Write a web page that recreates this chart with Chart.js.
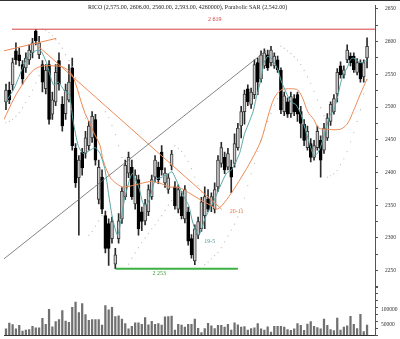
<!DOCTYPE html>
<html>
<head>
<meta charset="utf-8">
<style>
html,body{margin:0;padding:0;background:#fff;overflow:hidden;width:400px;height:339px;}
#wrap{position:relative;width:400px;height:339px;}
#frame{position:absolute;left:0;top:0;width:400px;height:1px;background:#333;}
#c{position:absolute;left:0;top:1px;}
#title{position:absolute;left:88px;top:4px;font:6px "Liberation Serif",serif;color:#222;white-space:nowrap;}
</style>
<script src="https://cdn.jsdelivr.net/npm/chart.js@4.4.0/dist/chart.umd.min.js"></script>
</head>
<body>
<div id="wrap"><div id="frame"></div><canvas id="c" width="400" height="338"></canvas>
<div id="title">RICO (2,575.00, 2606.00, 2560.00, 2,593.00, 4260000), Parabolic SAR (2,542.00)</div></div>
<script>
const opens = [2508,2526,2534,2586,2580,2565,2560,2572,2583,2616,
2580,2565,2528,2565,2489,2508,2571,2504,2490,2511,
2560,2437,2392,2431,2429,2441,2453,2481,2359,2393,
2334,2322,2299,2260,2299,2329,2363,2399,2408,2352,
2389,2340,2326,2340,2363,2393,2408,2431,2384,2374,
2410,2378,2344,2363,2329,2340,2299,2265,2304,2314,
2334,2359,2349,2344,2378,2414,2423,2408,2408,2414,
2438,2471,2493,2528,2504,2519,2568,2543,2563,2580,
2568,2563,2572,2556,2493,2508,2490,2513,2519,2493,
2474,2438,2444,2423,2438,2449,2434,2453,2478,2493,
2520,2563,2549,2572,2578,2578,2553,2568,2546,2575];
const highs = [2535,2538,2575,2598,2590,2571,2583,2595,2605,2619,
2608,2571,2565,2571,2523,2565,2583,2516,2535,2565,
2575,2444,2426,2437,2463,2478,2493,2489,2419,2404,
2341,2329,2332,2284,2337,2377,2419,2431,2419,2404,
2396,2347,2359,2381,2396,2426,2416,2441,2407,2398,
2434,2386,2381,2371,2380,2347,2305,2320,2332,2362,
2378,2374,2369,2384,2426,2446,2431,2437,2419,2459,
2475,2501,2526,2534,2529,2572,2575,2586,2589,2587,
2593,2583,2578,2560,2523,2514,2523,2519,2523,2501,
2481,2471,2452,2449,2471,2456,2475,2490,2508,2519,
2559,2569,2563,2595,2583,2583,2574,2572,2572,2606];
const lows = [2496,2505,2526,2565,2563,2535,2553,2565,2575,2595,
2574,2523,2520,2474,2481,2502,2526,2463,2481,2508,
2434,2377,2304,2396,2422,2434,2446,2411,2352,2337,
2277,2258,2292,2253,2292,2322,2359,2392,2359,2344,
2304,2311,2320,2334,2359,2386,2383,2396,2377,2368,
2404,2344,2338,2329,2323,2289,2269,2259,2299,2310,
2314,2340,2340,2338,2371,2408,2398,2404,2369,2408,
2434,2453,2474,2502,2498,2513,2519,2538,2559,2556,
2563,2559,2553,2490,2487,2484,2484,2487,2478,2453,
2441,2434,2416,2419,2434,2393,2429,2449,2472,2489,
2508,2544,2544,2568,2563,2553,2549,2538,2538,2560];
const closes = [2526,2511,2568,2572,2571,2543,2575,2587,2598,2601,
2598,2538,2556,2481,2511,2553,2535,2471,2526,2538,
2441,2384,2419,2407,2453,2471,2486,2419,2408,2344,
2284,2284,2325,2274,2326,2371,2411,2423,2363,2396,
2314,2325,2352,2374,2389,2419,2389,2404,2399,2392,
2428,2349,2374,2334,2374,2295,2274,2314,2325,2355,
2363,2344,2363,2374,2419,2438,2404,2429,2393,2444,
2468,2493,2520,2508,2523,2565,2538,2580,2583,2560,
2587,2578,2557,2496,2517,2489,2516,2493,2489,2475,
2449,2463,2423,2441,2463,2419,2468,2483,2504,2513,
2553,2549,2557,2587,2568,2557,2568,2543,2568,2593];
const volumes = [34000,54000,49000,34000,46000,27000,30000,32000,43000,38000,
38000,70000,50000,101000,41000,59000,66000,97000,61000,57000,
108000,126000,90000,121000,83000,63000,66000,66000,66000,47000,
114000,99000,108000,76000,79000,68000,52000,34000,43000,55000,
55000,50000,73000,48000,60000,50000,52000,47000,75000,76000,
78000,30000,50000,47000,40000,50000,50000,68000,36000,22000,
35000,53000,45000,35000,46000,46000,40000,50000,30000,55000,
48000,40000,42000,30000,35000,38000,52000,34000,30000,41000,
23000,43000,43000,43000,40000,32000,29000,34000,52000,46000,
29000,51000,59000,43000,39000,34000,68000,46000,32000,28000,
71000,30000,40000,45000,77000,50000,35000,84000,25000,47000];
// Parabolic SAR dots, one per candle
const sar = [2476,2478,2481,2486,2492,2499,2507,2516,2526,2537,
2548,2619,2617,2614,2609,2603,2597,2590,2580,2571,
2562,2545,2522,2500,2483,2304,2310,2318,2326,2334,
2493,2484,2472,2458,2441,2423,2253,2260,2269,2277,
2285,2293,2300,2307,2314,2320,2327,2334,2342,2350,
2357,2441,2437,2432,2425,2417,2406,2393,2380,2370,
2259,2263,2268,2273,2278,2285,2294,2303,2312,2321,
2332,2345,2361,2380,2398,2414,2432,2449,2465,2478,
2490,2503,2513,2593,2590,2586,2582,2577,2572,2565,
2556,2546,2536,2524,2511,2499,2487,2393,2395,2398,
2403,2412,2421,2432,2447,2461,2478,2496,2520,2542];

// short moving average (teal): [candle position, price]
const tealX = [0,2.4,4.8,6.9,9,10.5,12.2,14.3,15.8,17.9,19.1,20.3,21.8,23.3,25.4,26.9,28.4,29.9,31,32.2,33.7,35.8,37.3,38.2,39.1,40.3,41.2,42.1,43.3,45.1,47.2,49.3,50.2,52.3,53.7,55.2,56.1,57,58.2,59.1,60,61.5,63,65.1,66.6,68.1,70.5,72,73.5,74.6,75.5,77,77.9,79.1,80.6,82.1,83,84.5,86,87.5,89,89.9,91.1,92,92.9,94,94.9,95.8,97,97.9,98.8,100,100.9,101.8,103,103.9,104.8,106,106.9,107.8,109];
const tealY = [2508,2528,2557,2580,2586,2586,2568,2534,2538,2523,2520,2478,2441,2429,2434,2438,2429,2404,2366,2329,2304,2359,2389,2399,2389,2374,2355,2349,2359,2389,2393,2399,2401,2378,2363,2349,2329,2314,2304,2314,2329,2344,2359,2384,2399,2404,2429,2459,2478,2493,2513,2543,2568,2578,2571,2557,2541,2523,2508,2504,2490,2474,2453,2438,2426,2429,2438,2453,2474,2489,2493,2513,2534,2550,2560,2572,2575,2571,2568,2568,2572];
// longer moving average (orange)
const orangeX = [-0.6,2.4,5.4,8.4,11.3,14.3,16.7,18.8,20.3,22.7,23.9,25.4,26.3,28.4,29.3,31.4,33.1,35.2,39.1,43.3,46.3,49.3,52.3,55.2,59.1,62.1,63.6,65.1,68.1,71.1,74.1,77,79.1,80.9,83,86,88.1,89.6,91.1,92.9,94.4,97,100.9,103,104.8,106.9,109];
const orangeY = [2481,2513,2538,2557,2563,2563,2562,2556,2546,2508,2490,2474,2463,2441,2419,2393,2384,2378,2381,2386,2384,2378,2377,2369,2357,2349,2344,2349,2369,2393,2419,2449,2486,2513,2526,2528,2526,2513,2493,2481,2468,2466,2466,2474,2493,2519,2543];

// drawn lines: [x0, y0, x1, y1]
const topOrangeLine = [-0.6, 2586, 15.2, 2605];
const downTrend = [9.3, 2595, 65.1, 2344];
const upTrend = [-0.6, 2268, 78.5, 2586];
const highLine = [1.8, 2619, 111.4, 2619];
const lowLine = [33.1, 2253, 70, 2253];

const notes = [
  {text:'2 619', x:63, y:2634, color:'#d23a3a'},
  {text:'2 253', x:46.3, y:2245, color:'#3a9a3a'},
  {text:'19-5', x:61.5, y:2295, color:'#4a9a9a'},
  {text:'20-11', x:69.6, y:2340, color:'#e0703a'}
];
const volumeLabels = [50000, 100000];

const xMin = -0.6, xMax = 111.4;
const priceMin = 2224.7, priceMax = 2656;
const volMin = 13333, volMax = 176667;

const idx = closes.map((_, i) => i);
const seg = a => [{x:a[0], y:a[1]}, {x:a[2], y:a[3]}];
const pts = (xs, ys) => xs.map((x, i) => ({x, y: ys[i]}));

const notesPlugin = {
  id: 'notes',
  afterDraw(chart) {
    const {ctx, scales} = chart;
    ctx.save();
    ctx.font = '6px "Liberation Serif", serif';
    ctx.textAlign = 'center';
    ctx.textBaseline = 'middle';
    notes.forEach(n => {
      ctx.fillStyle = n.color;
      ctx.fillText(n.text, scales.x.getPixelForValue(n.x), scales.y.getPixelForValue(n.y));
    });
    // volume axis labels, placed by the volume scale
    ctx.font = '5.5px "Liberation Serif", serif';
    ctx.textAlign = 'left';
    ctx.fillStyle = '#333';
    volumeLabels.forEach(v => {
      ctx.fillText(String(v), scales.yv.left + 6, scales.yv.getPixelForValue(v));
    });
    ctx.restore();
  }
};

const lineDs = (data, color, width, order) => ({
  type: 'line', data, borderColor: color, borderWidth: width, pointRadius: 0,
  tension: 0, fill: false, yAxisID: 'y', order
});

new Chart(document.getElementById('c'), {
  type: 'bar',
  data: {
    datasets: [
      lineDs(seg(highLine), '#d84040', 1, 1),
      lineDs(seg(lowLine), '#3cb043', 2, 1),
      lineDs(seg(upTrend), '#666666', 0.8, 1),
      lineDs(seg(downTrend), '#ee8a55', 1, 1),
      lineDs(seg(topOrangeLine), '#ee8a55', 1, 1),
      Object.assign(lineDs(pts(tealX, tealY), '#5aa6a6', 1, 2), {tension: 0.2}),
      Object.assign(lineDs(pts(orangeX, orangeY), '#ee8a55', 1, 2), {tension: 0.3}),
      {
        type: 'line', yAxisID: 'y', order: 2, showLine: false,
        data: idx.map(i => ({x: i, y: sar[i]})),
        pointRadius: 0.6, pointBorderWidth: 0, pointBackgroundColor: '#b8b8b8'
      },
      {
        type: 'bar', yAxisID: 'y', order: 3, grouped: false,
        data: idx.map(i => ({x: i, y: [Math.min(opens[i], closes[i]), Math.max(opens[i], closes[i])]})),
        backgroundColor: idx.map(i => closes[i] >= opens[i] ? '#cccccc' : '#000000'),
        borderColor: idx.map(i => closes[i] >= opens[i] ? '#3a3a3a' : '#000000'),
        borderWidth: 1, borderSkipped: false, barThickness: 3
      },
      {
        type: 'bar', yAxisID: 'y', order: 4, grouped: false,
        data: idx.map(i => ({x: i, y: [lows[i], highs[i]]})),
        backgroundColor: '#2a2a2a', barThickness: 1
      },
      {
        type: 'bar', yAxisID: 'yv', order: 5, grouped: false,
        data: idx.map(i => ({x: i, y: volumes[i]})),
        backgroundColor: '#707070', borderWidth: 0, barThickness: 1.6
      }
    ]
  },
  options: {
    responsive: false, animation: false, devicePixelRatio: 1,
    layout: {padding: {left: 0, right: 4, top: 0, bottom: 0}},
    plugins: {legend: {display: false}, tooltip: {enabled: false}, title: {display: false}},
    scales: {
      x: {
        type: 'linear', min: xMin, max: xMax, offset: false,
        ticks: {display: false}, grid: {display: false, drawTicks: false, tickLength: 0},
        border: {display: true, color: '#333', width: 1},
        afterFit(s) { s.height = 0; s.paddingLeft = 0; s.paddingRight = 0; }
      },
      y: {
        type: 'linear', position: 'right', stack: 'main', stackWeight: 289,
        min: priceMin, max: priceMax,
        border: {display: true, color: '#555', width: 1},
        grid: {display: true, drawOnChartArea: false, drawTicks: true, tickLength: 3, color: '#555'},
        ticks: {
          stepSize: 25, includeBounds: false, autoSkip: false, padding: 7, crossAlign: 'near',
          color: '#333', font: {family: 'Liberation Serif', size: 5.5},
          callback: v => (v % 50 === 0 ? String(v) : '')
        },
        afterFit(s) { s.width = 21; s.paddingTop = 0; s.paddingBottom = 0; }
      },
      yv: {
        type: 'linear', position: 'right', stack: 'main', stackWeight: 49,
        min: volMin, max: volMax,
        border: {display: true, color: '#555', width: 1},
        grid: {display: true, drawOnChartArea: false, drawTicks: true, tickLength: 3, color: '#555'},
        ticks: {
          stepSize: 25000, includeBounds: false, autoSkip: false, display: false
        },
        afterFit(s) { s.width = 21; s.paddingTop = 0; s.paddingBottom = 0; }
      }
    }
  },
  plugins: [notesPlugin]
});
</script>
</body>
</html>
